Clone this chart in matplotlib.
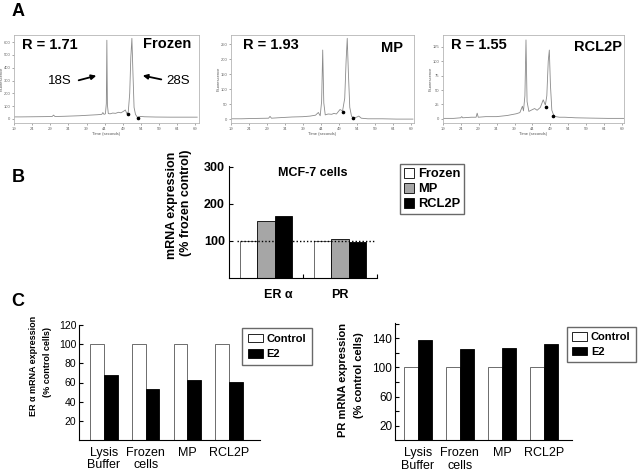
# recreate figure: RNA quality traces (A), MCF-7 mRNA expression (B), E2 response (C)
import numpy as np
import matplotlib
matplotlib.use('Agg')
import matplotlib.pyplot as plt
from matplotlib.patches import Patch, FancyArrowPatch

plt.rcParams['font.family'] = ['Liberation Sans', 'DejaVu Sans']

# ------------------------------------------------
# data

# panel A: electropherogram traces (time in s, fluorescence)
ep_xticks = [19, 24, 29, 34, 39, 44, 49, 54, 59, 64, 69]

frozen_t = [19, 21, 24, 27, 29.5, 29.9, 30.3, 33, 37, 40, 42, 43.2, 43.5, 43.8, 44.2, 44.45, 44.6, 44.75,
            45.0, 45.5, 46.2, 47, 47.8, 48.5, 49.2, 49.7, 50.1, 50.5, 50.9, 51.2, 51.5, 51.8, 52.1, 52.5,
            53.1, 53.8, 55, 58, 62, 66, 69.5]
frozen_v = [16, 16, 17, 18, 19, 30, 19, 21, 25, 30, 33, 36, 50, 36, 40, 120, 615, 110,
            42, 40, 46, 44, 52, 48, 60, 70, 42, 55, 200, 480, 630, 350, 90, 35,
            10, 20, 17, 15, 14, 14, 14]
frozen_mk_t = [50.4, 53.2]
frozen_mk_v = [37, 5]
frozen_yticks = [0, 100, 200, 300, 400, 500, 600]

mp_t = [19, 22, 25, 29.5, 29.9, 30.3, 33, 36, 39, 41, 42.5, 43.3, 43.8, 44.2, 44.5, 44.8, 45.2, 46, 47,
        47.6, 48.3, 49.3, 50, 50.6, 51.0, 51.3, 51.6, 52.0, 52.5, 53.2, 54.0, 54.5, 55.2, 57, 61, 65, 69.5]
mp_v = [2, 2, 3, 4, 10, 4, 6, 8, 9, 11, 14, 23, 12, 60, 231, 55, 15, 18, 17,
        20, 18, 33, 28, 70, 200, 270, 160, 40, 10, 5, 8, 11, 4, 2, 2, 1, 1]
mp_mk_t = [50.2, 52.8]
mp_mk_v = [23, 6]
mp_yticks = [0, 50, 100, 150, 200, 250]

rcl_t = [19, 22, 24.0, 24.3, 24.6, 27, 28.3, 28.6, 28.9, 31, 34, 37, 39.5, 40.5, 41.2, 41.5, 41.9, 42.2,
         42.5, 43.0, 43.6, 44.6, 45.3, 46.2, 47.0, 47.6, 48.0, 48.4, 48.7, 49.0, 49.4, 50.0, 50.5, 51.5,
         53, 56, 60, 65, 69.5]
rcl_v = [1, 1, 2, 4, 2, 3, 3, 10, 3, 4, 4, 6, 9, 11, 22, 14, 40, 136.5,
         30, 13, 15, 18, 15, 20, 33, 24, 40, 100, 119, 60, 15, 5, 4, 3,
         3, 2, 1.5, 1, 1]
rcl_mk_t = [47.9, 49.8]
rcl_mk_v = [20, 5]
rcl_yticks = [0, 25, 50, 75, 100, 125]

# panel B: mRNA expression, % frozen control
genes = ['ER α', 'PR']
b_frozen = [100, 100]
b_mp = [154, 104]
b_rcl2p = [166, 96]

# panel C: E2 response, % control cells
groups = ['Lysis\nBuffer', 'Frozen\ncells', 'MP', 'RCL2P']
era_control = [100, 100, 100, 100]
era_e2 = [68, 53, 63, 61]
pr_control = [100, 100, 100, 100]
pr_e2 = [137, 125, 127, 132]

# ------------------------------------------------
# helpers
W, H = 640, 474
fig = plt.figure(figsize=(6.4, 4.74), dpi=100)


def FigPix(x, y):
	"""pixel position (from top left) to figure fraction"""
	return x / W, 1 - y / H


def AxPix(x0, y0, x1, y1):
	"""axes from pixel box (top left origin)"""
	return fig.add_axes([x0 / W, 1 - y1 / H, (x1 - x0) / W, (y1 - y0) / H])


def PlotTrace(ax, t, v, mk_t, mk_v, xlim, ylim, yticks, wpix):
	"""electropherogram style trace"""
	ax.plot(t, v, color='#8a8a8a', lw=0.6)
	ax.plot(mk_t, mk_v, 'o', color='k', ms=1.6)
	ax.set_xlim(xlim)
	ax.set_ylim(ylim)
	ax.set_xticks(ep_xticks)
	ax.set_yticks(yticks)
	ax.tick_params(labelsize=3, length=1.5, width=0.4, colors='#666666', pad=1)
	for s in ax.spines.values():
		s.set_color('#b5b5b5')
		s.set_linewidth(0.6)
	ax.set_xlabel('Time (seconds)', fontsize=3, labelpad=1, color='#555555')
	ax.set_ylabel('Fluorescence', fontsize=3, color='#555555')
	ax.yaxis.set_label_coords(-10.5 / wpix, 0.5)


def CleanAxes(ax):
	ax.spines['top'].set_visible(False)
	ax.spines['right'].set_visible(False)
	for s in ['left', 'bottom']:
		ax.spines[s].set_linewidth(0.8)


def BoxLegend(handles, xy, size, **kwargs):
	leg = fig.legend(handles=handles, loc='upper left', bbox_to_anchor=FigPix(*xy),
		bbox_transform=fig.transFigure, prop=dict(weight='bold', size=size),
		frameon=True, fancybox=False, borderaxespad=0, **kwargs)
	leg.get_frame().set_edgecolor('#444444')
	leg.get_frame().set_linewidth(1.0)
	return leg


# ------------------------------------------------
# panel A
ax1 = AxPix(14, 35, 199, 123.3)
PlotTrace(ax1, frozen_t, frozen_v, frozen_mk_t, frozen_mk_v, (19, 70), (-34, 656), frozen_yticks, 185)
ax2 = AxPix(230.7, 35, 414, 123.3)
PlotTrace(ax2, mp_t, mp_v, mp_mk_t, mp_mk_v, (19, 69.8), (-13, 281), mp_yticks, 183.3)
ax3 = AxPix(442.7, 35, 624, 123.3)
PlotTrace(ax3, rcl_t, rcl_v, rcl_mk_t, rcl_mk_v, (19, 69.5), (-7.5, 145), rcl_yticks, 181.3)

bold = dict(fontweight='bold', va='center')
fig.text(*FigPix(22, 45), 'R = 1.71', ha='left', fontsize=10.5, **bold)
fig.text(*FigPix(191, 44.5), 'Frozen', ha='right', fontsize=10.5, **bold)
fig.text(*FigPix(243, 45), 'R = 1.93', ha='left', fontsize=10.5, **bold)
fig.text(*FigPix(403, 48), 'MP', ha='right', fontsize=10.5, **bold)
fig.text(*FigPix(451, 45), 'R = 1.55', ha='left', fontsize=10.5, **bold)
fig.text(*FigPix(622, 47), 'RCL2P', ha='right', fontsize=10.5, **bold)

# 18S / 28S arrows
fig.text(*FigPix(60, 81.5), '18S', ha='center', va='center', fontsize=9.5)
fig.text(*FigPix(178, 81.5), '28S', ha='center', va='center', fontsize=9.5)
aprops = dict(arrowstyle='-|>', color='k', lw=1.3, mutation_scale=7)
fig.add_artist(FancyArrowPatch(FigPix(76, 81), FigPix(99, 75), transform=fig.transFigure, **aprops))
fig.add_artist(FancyArrowPatch(FigPix(164, 80), FigPix(140, 75), transform=fig.transFigure, **aprops))

# ------------------------------------------------
# panel B
axb = AxPix(229, 165.6, 377, 277.7)
CleanAxes(axb)
bw = 0.23
xb = np.arange(len(genes)) + 0.5
axb.bar(xb - bw, b_frozen, bw, color='white', edgecolor='#555555', lw=0.6)
axb.bar(xb, b_mp, bw, color='#a6a6a6', edgecolor='k', lw=0.6)
axb.bar(xb + bw, b_rcl2p, bw, color='k', edgecolor='k', lw=0.6)
axb.axhline(100, xmin=0.055, xmax=0.985, color='k', ls=(0, (1, 1.5)), lw=1, zorder=3)
axb.set_xlim(0, 2)
axb.set_ylim(0, 303)
axb.set_yticks([100, 200, 300])
axb.tick_params(axis='y', direction='in', length=3, width=0.8, labelsize=9, pad=3)
for lbl in axb.get_yticklabels():
	lbl.set_fontweight('bold')
axb.set_xticks([1, 2])
axb.set_xticklabels([])
axb.tick_params(axis='x', which='major', direction='in', length=3, width=0.8)
axb.set_xticks([0.66, 1.5], minor=True)
axb.set_xticklabels(genes, minor=True, fontsize=9, fontweight='bold')
axb.tick_params(axis='x', which='minor', length=0, pad=8)
fig.text(*FigPix(313, 173), 'MCF-7 cells', ha='center', fontsize=9, **bold)
fig.text(*FigPix(172, 205.5), 'mRNA expression', rotation=90, ha='center', fontsize=9, **bold)
fig.text(*FigPix(185.5, 202.5), '(% frozen control)', rotation=90, ha='center', fontsize=9, **bold)
BoxLegend([Patch(facecolor='white', edgecolor='k', lw=0.6, label='Frozen'),
	Patch(facecolor='#a6a6a6', edgecolor='k', lw=0.6, label='MP'),
	Patch(facecolor='k', edgecolor='k', lw=0.6, label='RCL2P')], (400, 164), 9.3,
	borderpad=0.3, labelspacing=0.2, handlelength=0.8, handleheight=0.8, handletextpad=0.3)

# ------------------------------------------------
# panel C
cw = 0.33
xc = np.arange(len(groups))

axc1 = AxPix(79, 325, 260, 440)
CleanAxes(axc1)
axc1.bar(xc - cw / 2, era_control, cw, color='white', edgecolor='#555555', lw=0.6)
axc1.bar(xc + cw / 2, era_e2, cw, color='k', edgecolor='k', lw=0.6)
axc1.set_xlim(-0.6, 3.74)
axc1.set_ylim(0, 120)
axc1.set_yticks([20, 40, 60, 80, 100, 120])
axc1.tick_params(axis='y', direction='in', length=3, width=0.8, labelsize=7.5, pad=2)
axc1.set_xticks(xc)
axc1.set_xticklabels(groups, fontsize=9, linespacing=1.05)
axc1.tick_params(axis='x', length=0, pad=5)
fig.text(*FigPix(33, 366), 'ER α mRNA expression', rotation=90, ha='center', fontsize=6.5, **bold)
fig.text(*FigPix(48, 362), '(% control cells)', rotation=90, ha='center', fontsize=6.5, **bold)

axc2 = AxPix(395, 323, 572, 440.2)
CleanAxes(axc2)
axc2.bar(xc - cw / 2, pr_control, cw, color='white', edgecolor='#555555', lw=0.6)
axc2.bar(xc + cw / 2, pr_e2, cw, color='k', edgecolor='k', lw=0.6)
axc2.set_xlim(-0.54, 3.66)
axc2.set_ylim(0, 161)
axc2.set_yticks([20, 60, 100, 140])
axc2.set_yticks([40, 80, 120, 160], minor=True)
axc2.tick_params(axis='y', which='both', direction='in', length=3, width=0.8, labelsize=8.5, pad=2)
axc2.set_xticks(xc)
axc2.set_xticklabels(groups, fontsize=9, linespacing=1.05)
axc2.tick_params(axis='x', length=0, pad=5)
fig.text(*FigPix(343, 380), 'PR mRNA expression', rotation=90, ha='center', fontsize=8, **bold)
fig.text(*FigPix(359, 375), '(% control cells)', rotation=90, ha='center', fontsize=8, **bold)

c_handles = [Patch(facecolor='white', edgecolor='k', lw=0.6, label='Control'),
	Patch(facecolor='k', edgecolor='k', lw=0.6, label='E2')]
BoxLegend(c_handles, (242, 328), 8, borderpad=0.5, labelspacing=0.5,
	handlelength=1.35, handleheight=0.8, handletextpad=0.35)
BoxLegend(c_handles, (567, 327), 8, borderpad=0.45, labelspacing=0.4,
	handlelength=1.35, handleheight=0.8, handletextpad=0.35)

# panel letters
fig.text(*FigPix(18, 11), 'A', ha='center', fontsize=13, **bold)
fig.text(*FigPix(18, 177), 'B', ha='center', fontsize=13, **bold)
fig.text(*FigPix(18, 302), 'C', ha='center', fontsize=13, **bold)

fig.savefig('out.png', dpi=100)
